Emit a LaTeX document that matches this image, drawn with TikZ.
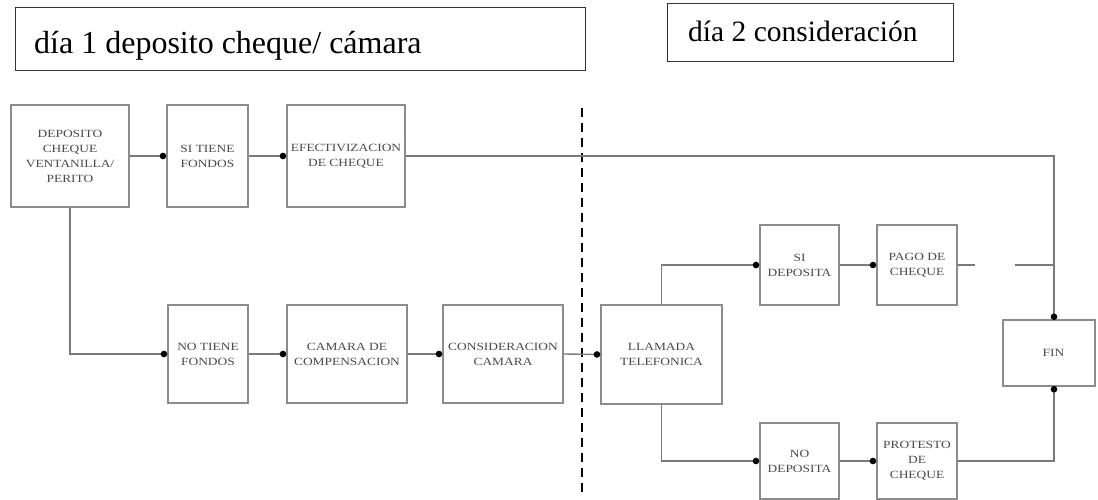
\documentclass[tikz,border=0pt]{standalone}
\usepackage{fontspec}
\setmainfont{Liberation Serif}
\newfontfamily\boxfont[FakeStretch=1.22]{Liberation Serif}
\usetikzlibrary{arrows.meta}
\definecolor{boxgray}{HTML}{8C8C8C}
\definecolor{linegray}{HTML}{7A7A7A}
\definecolor{textgray}{HTML}{4A4A4A}
\definecolor{titlegray}{HTML}{333333}
\begin{document}
\begin{tikzpicture}[x=1pt,y=-1pt,
  box/.style={draw=boxgray, line width=1.6pt, rectangle, inner sep=0pt, align=center,
    font=\boxfont\fontsize{11}{15}\selectfont, text=textgray},
  conn/.style={draw=linegray, line width=1.4pt, -{Circle[length=6.5pt,width=6.5pt,fill=black,color=black]}},
  plainconn/.style={draw=linegray, line width=1.4pt},
  titlebox/.style={draw=titlegray, line width=1.1pt, rectangle, inner sep=0pt, anchor=north west},
  divider/.style={draw=black, line width=1.6pt, dash pattern=on 9pt off 6pt}
]
\useasboundingbox (0,0) rectangle (1098,500);

% titles
\node[titlebox, minimum width=570pt, minimum height=63pt] (t1) at (15,7) {};
\node[anchor=base west, font=\fontsize{32}{36}\selectfont, inner sep=0pt] (t1text) at (34,54) {día 1 deposito cheque/ cámara};
\node[titlebox, minimum width=286pt, minimum height=58pt] (t2) at (667,3) {};
\node[anchor=base west, font=\fontsize{29.5}{34}\selectfont, inner sep=0pt] (t2text) at (688,42) {día 2 consideración};

% divider
\coordinate (dtop) at (582,108);
\coordinate (dbot) at (582,496);
\draw[divider] (dtop) -- (dbot);

% boxes
\node[box, minimum width=118pt, minimum height=102pt] (dep) at (70,156) {DEPOSITO\\CHEQUE\\VENTANILLA/\\PERITO};
\node[box, minimum width=81pt, minimum height=102pt] (sitiene) at (207.5,156) {SI TIENE\\FONDOS};
\node[box, minimum width=118pt, minimum height=102pt] (efec) at (346,156) {EFECTIVIZACION\\DE CHEQUE};

\node[box, minimum width=80pt, minimum height=98pt] (notiene) at (208,354) {NO TIENE\\FONDOS};
\node[box, minimum width=120pt, minimum height=98pt] (camara) at (347,354) {CAMARA DE\\COMPENSACION};
\node[box, minimum width=120pt, minimum height=98pt] (consid) at (503,354) {CONSIDERACION\\CAMARA};
\node[box, minimum width=121pt, minimum height=99pt] (llamada) at (661.5,354.5) {LLAMADA\\TELEFONICA};

\node[box, minimum width=79pt, minimum height=80pt] (sidep) at (799.5,265) {SI\\DEPOSITA};
\node[box, minimum width=80pt, minimum height=80pt] (pago) at (917,265) {PAGO DE\\CHEQUE};
\node[box, minimum width=79pt, minimum height=76pt] (nodep) at (799.5,461) {NO\\DEPOSITA};
\node[box, minimum width=80pt, minimum height=76pt] (protesto) at (917,461) {PROTESTO\\DE\\CHEQUE};

\node[box, minimum width=92pt, minimum height=66pt] (fin) at (1049,353) {\hspace*{9pt}FIN};

\coordinate (fintop) at (1054,320);
\coordinate (finbot) at (1054,386);
\coordinate (gapA) at (975,265);
\coordinate (gapB) at (1015,265);
\coordinate (vmeet) at (1054,265);

% connectors
\draw[conn] (dep.east) -- (sitiene.west);
\draw[conn] (sitiene.east) -- (efec.west);
\draw[conn] (efec.east) -| (fintop);
\draw[conn] (dep.south) |- (notiene.west);
\draw[conn] (notiene.east) -- (camara.west);
\draw[conn] (camara.east) -- (consid.west);
\draw[conn] (consid.east) -- (llamada.west);
\draw[conn] (llamada.north) |- (sidep.west);
\draw[conn] (llamada.south) |- (nodep.west);
\draw[conn] (sidep.east) -- (pago.west);
\draw[conn] (nodep.east) -- (protesto.west);
\draw[plainconn] (pago.east) -- (gapA);
\draw[plainconn] (gapB) -- (vmeet);
\draw[conn] (protesto.east) -| (finbot);
\end{tikzpicture}
\end{document}
